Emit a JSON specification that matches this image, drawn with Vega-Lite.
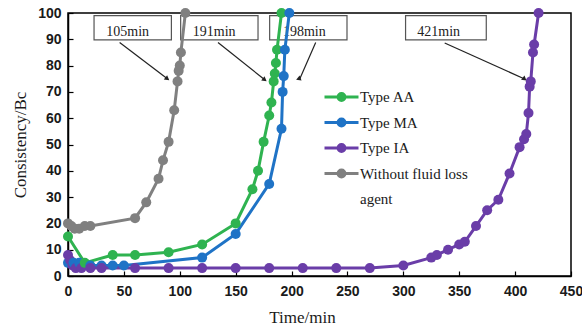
{
  "$schema": "https://vega.github.io/schema/vega-lite/v6.json",
  "width": 503,
  "height": 263,
  "autosize": {"type": "none"},
  "padding": {"left": 68, "top": 13, "right": 11, "bottom": 51},
  "background": "white",
  "config": {
    "view": {"stroke": "black", "strokeWidth": 1.5},
    "axis": {
      "grid": false,
      "domainColor": "black",
      "domainWidth": 1.5,
      "tickColor": "black",
      "tickWidth": 1.2,
      "tickSize": -5,
      "labelOverlap": false,
      "labelFlush": false,
      "labelFont": "Liberation Sans",
      "labelFontSize": 14,
      "labelFontWeight": "bold",
      "labelColor": "#1a1a1a",
      "titleFont": "Liberation Serif",
      "titleFontSize": 17,
      "titleFontWeight": "normal",
      "titleColor": "#1a1a1a"
    }
  },
  "datasets": {
    "curves": [
      {"series": "Type AA", "t": 0, "bc": 15}, {"series": "Type AA", "t": 15, "bc": 5},
      {"series": "Type AA", "t": 40, "bc": 8}, {"series": "Type AA", "t": 60, "bc": 8},
      {"series": "Type AA", "t": 90, "bc": 9}, {"series": "Type AA", "t": 120, "bc": 12},
      {"series": "Type AA", "t": 150, "bc": 20}, {"series": "Type AA", "t": 165, "bc": 33},
      {"series": "Type AA", "t": 170, "bc": 40}, {"series": "Type AA", "t": 175, "bc": 51},
      {"series": "Type AA", "t": 180, "bc": 61}, {"series": "Type AA", "t": 182, "bc": 66},
      {"series": "Type AA", "t": 184, "bc": 74}, {"series": "Type AA", "t": 185, "bc": 77},
      {"series": "Type AA", "t": 186, "bc": 81}, {"series": "Type AA", "t": 187, "bc": 86},
      {"series": "Type AA", "t": 191, "bc": 100},
      {"series": "Type MA", "t": 0, "bc": 5}, {"series": "Type MA", "t": 5, "bc": 5},
      {"series": "Type MA", "t": 10, "bc": 5}, {"series": "Type MA", "t": 20, "bc": 4},
      {"series": "Type MA", "t": 30, "bc": 4}, {"series": "Type MA", "t": 40, "bc": 4},
      {"series": "Type MA", "t": 50, "bc": 4}, {"series": "Type MA", "t": 120, "bc": 7},
      {"series": "Type MA", "t": 150, "bc": 16}, {"series": "Type MA", "t": 180, "bc": 35},
      {"series": "Type MA", "t": 191, "bc": 56}, {"series": "Type MA", "t": 192, "bc": 70},
      {"series": "Type MA", "t": 193, "bc": 76}, {"series": "Type MA", "t": 194, "bc": 86},
      {"series": "Type MA", "t": 198, "bc": 100},
      {"series": "Type IA", "t": 0, "bc": 8}, {"series": "Type IA", "t": 2, "bc": 6},
      {"series": "Type IA", "t": 4, "bc": 4}, {"series": "Type IA", "t": 7, "bc": 3},
      {"series": "Type IA", "t": 12, "bc": 3}, {"series": "Type IA", "t": 20, "bc": 3},
      {"series": "Type IA", "t": 30, "bc": 3}, {"series": "Type IA", "t": 60, "bc": 3},
      {"series": "Type IA", "t": 90, "bc": 3}, {"series": "Type IA", "t": 120, "bc": 3},
      {"series": "Type IA", "t": 150, "bc": 3}, {"series": "Type IA", "t": 180, "bc": 3},
      {"series": "Type IA", "t": 210, "bc": 3}, {"series": "Type IA", "t": 240, "bc": 3},
      {"series": "Type IA", "t": 270, "bc": 3}, {"series": "Type IA", "t": 300, "bc": 4},
      {"series": "Type IA", "t": 325, "bc": 7}, {"series": "Type IA", "t": 330, "bc": 8},
      {"series": "Type IA", "t": 340, "bc": 10}, {"series": "Type IA", "t": 350, "bc": 12},
      {"series": "Type IA", "t": 355, "bc": 13}, {"series": "Type IA", "t": 365, "bc": 19},
      {"series": "Type IA", "t": 375, "bc": 25}, {"series": "Type IA", "t": 385, "bc": 29},
      {"series": "Type IA", "t": 395, "bc": 39}, {"series": "Type IA", "t": 404, "bc": 49},
      {"series": "Type IA", "t": 408, "bc": 52}, {"series": "Type IA", "t": 410, "bc": 54},
      {"series": "Type IA", "t": 412, "bc": 62}, {"series": "Type IA", "t": 413, "bc": 72},
      {"series": "Type IA", "t": 414, "bc": 74}, {"series": "Type IA", "t": 416, "bc": 85},
      {"series": "Type IA", "t": 417, "bc": 88}, {"series": "Type IA", "t": 421, "bc": 100},
      {"series": "Without fluid loss agent", "t": 0, "bc": 20}, {"series": "Without fluid loss agent", "t": 3, "bc": 19},
      {"series": "Without fluid loss agent", "t": 6, "bc": 18}, {"series": "Without fluid loss agent", "t": 10, "bc": 18},
      {"series": "Without fluid loss agent", "t": 15, "bc": 19}, {"series": "Without fluid loss agent", "t": 20, "bc": 19},
      {"series": "Without fluid loss agent", "t": 60, "bc": 22}, {"series": "Without fluid loss agent", "t": 70, "bc": 28},
      {"series": "Without fluid loss agent", "t": 81, "bc": 37}, {"series": "Without fluid loss agent", "t": 85, "bc": 44},
      {"series": "Without fluid loss agent", "t": 90, "bc": 51}, {"series": "Without fluid loss agent", "t": 95, "bc": 63},
      {"series": "Without fluid loss agent", "t": 98, "bc": 74}, {"series": "Without fluid loss agent", "t": 99, "bc": 78},
      {"series": "Without fluid loss agent", "t": 100, "bc": 80}, {"series": "Without fluid loss agent", "t": 101, "bc": 85},
      {"series": "Without fluid loss agent", "t": 105, "bc": 100}
    ],
    "notes": [
      {"label": "105min", "bx1": 23.3, "bx2": 92.5, "by1": 89.8, "by2": 99, "tx": 53.4, "ty": 91.2, "ax1": 46.2, "ay1": 88.8, "ax2": 88.9, "ay2": 75},
      {"label": "191min", "bx1": 100.8, "bx2": 170, "by1": 89.8, "by2": 99, "tx": 130.8, "ty": 91.2, "ax1": 134.2, "ay1": 88.8, "ax2": 176, "ay2": 74.6},
      {"label": "198min", "bx1": 180.4, "bx2": 249.6, "by1": 89.8, "by2": 99, "tx": 211.4, "ty": 91.2, "ax1": 221.6, "ay1": 88.8, "ax2": 207.3, "ay2": 74.9},
      {"label": "421min", "bx1": 302, "bx2": 374.2, "by1": 89.8, "by2": 99, "tx": 331.6, "ty": 91.2, "ax1": 337, "ay1": 88.6, "ax2": 408.5, "ay2": 74.9}
    ]
  },
  "layer": [
    {
      "data": {"name": "notes"},
      "mark": {"type": "rect", "fill": "white", "stroke": "#555555", "strokeWidth": 1.2},
      "encoding": {
        "x": {
          "field": "bx1",
          "type": "quantitative",
          "title": "Time/min",
          "scale": {"domain": [0, 450], "nice": false},
          "axis": {"values": [0, 50, 100, 150, 200, 250, 300, 350, 400, 450], "tickCount": 30, "labelOverlap": false, "labelPadding": 13, "titleX": 234, "titleY": 33, "titleFontWeight": "normal"}
        },
        "x2": {"field": "bx2"},
        "y": {
          "field": "by1",
          "type": "quantitative",
          "title": "Consistency/Bc",
          "scale": {"domain": [0, 100], "nice": false},
          "axis": {"values": [0, 10, 20, 30, 40, 50, 60, 70, 80, 90, 100], "tickCount": 30, "labelOverlap": false, "labelPadding": 12, "titlePadding": 8, "titleFontWeight": "normal"}
        },
        "y2": {"field": "by2"}
      }
    },
    {
      "data": {"name": "notes"},
      "mark": {"type": "text", "font": "Liberation Serif", "fontSize": 14, "color": "#222222", "align": "center", "baseline": "alphabetic"},
      "encoding": {
        "x": {"field": "tx", "type": "quantitative"},
        "y": {"field": "ty", "type": "quantitative"},
        "text": {"field": "label"}
      }
    },
    {
      "data": {"name": "notes"},
      "mark": {"type": "rule", "color": "#222222", "strokeWidth": 1.2},
      "encoding": {
        "x": {"field": "ax1", "type": "quantitative"},
        "y": {"field": "ay1", "type": "quantitative"},
        "x2": {"field": "ax2"},
        "y2": {"field": "ay2"}
      }
    },
    {
      "data": {"name": "notes"},
      "mark": {"type": "point", "shape": "triangle-up", "filled": true, "color": "#222222", "size": 30, "opacity": 1},
      "encoding": {
        "x": {"field": "ax2", "type": "quantitative"},
        "y": {"field": "ay2", "type": "quantitative"},
        "angle": {
          "field": "label",
          "type": "nominal",
          "scale": {"domain": ["105min", "191min", "198min", "421min"], "range": [127, 129, 204, 114]},
          "legend": null
        }
      }
    },
    {
      "data": {"name": "curves"},
      "mark": {"type": "line", "strokeWidth": 3, "point": {"filled": true, "size": 100, "opacity": 1}},
      "encoding": {
        "x": {"field": "t", "type": "quantitative"},
        "y": {"field": "bc", "type": "quantitative"},
        "color": {
          "field": "series",
          "type": "nominal",
          "scale": {
            "domain": ["Type AA", "Type MA", "Type IA", "Without fluid loss agent"],
            "range": ["#2fb350", "#1f73c6", "#6a3da8", "#808080"]
          },
          "legend": {
            "orient": "none",
            "legendX": 255,
            "legendY": 72,
            "title": null,
            "padding": 0,
            "labelFont": "Liberation Serif",
            "labelFontSize": 15,
            "labelColor": "#1a1a1a",
            "labelOffset": 0,
            "labelExpr": "datum.label == 'Without fluid loss agent' ? ['Without fluid loss', 'agent'] : datum.label",
            "symbolType": "M-1,0L1,0M-0.2,0A0.2,0.2 0 1,0 0.2,0A0.2,0.2 0 1,0 -0.2,0",
            "symbolSize": 1156,
            "symbolStrokeWidth": 3,
            "clipHeight": 24,
            "rowPadding": 1.5,
            "encode": {
              "symbols": {"update": {"fill": {"scale": "color", "field": "value"}, "stroke": {"scale": "color", "field": "value"}}},
              "labels": {"update": {"lineHeight": {"value": 25}}}
            }
          }
        },
        "order": {"field": "t", "type": "quantitative"}
      }
    }
  ]
}
